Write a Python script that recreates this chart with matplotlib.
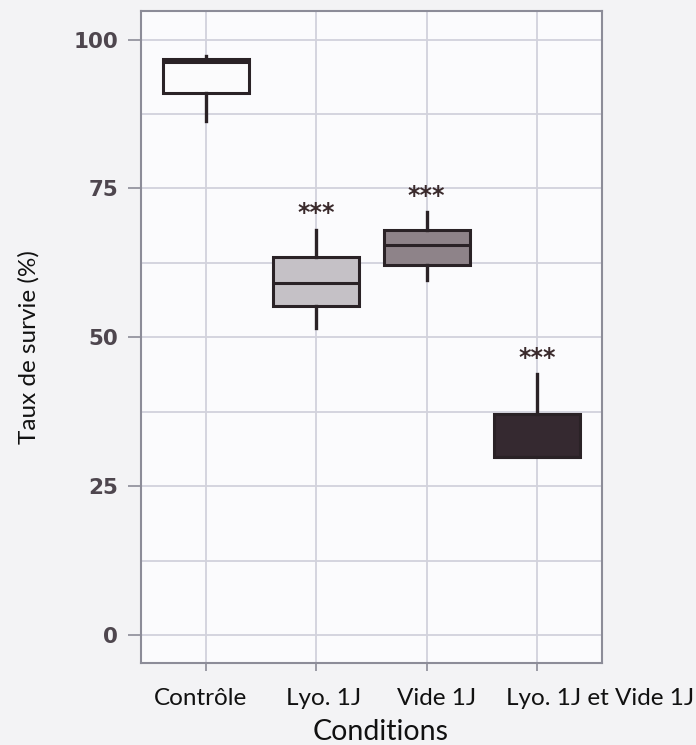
import matplotlib
matplotlib.use("Agg")
import matplotlib.pyplot as plt
import matplotlib.transforms as mtransforms
from matplotlib.ticker import MultipleLocator

categories = ["Contrôle", "Lyo. 1J", "Vide 1J", "Lyo. 1J et Vide 1J"]
whis_low = [86.3, 51.5, 59.6, 29.9]
q1 = [91.1, 55.2, 62.2, 29.9]
medians = [96.3, 59.1, 65.5, 29.9]
q3 = [96.8, 63.5, 68.0, 37.2]
whis_high = [97.3, 68.1, 71.0, 43.8]
signif = ["", "***", "***", "***"]
fill_colors = ["#fbfbfc", "#c5c1c6", "#8e8389", "#352930"]
y_ticks = [0, 25, 50, 75, 100]
label_shift_px = [-6, 7, 10, 63]

fig = plt.figure(figsize=(6.96, 7.45), dpi=100)
fig.patch.set_facecolor("#f3f3f5")
ax = fig.add_axes([141/696, 1 - 663/745, (602-141)/696, (663-11)/745])
ax.set_facecolor("#fbfbfd")

stats = []
for i, c in enumerate(categories):
    stats.append(dict(label=c, whislo=whis_low[i], q1=q1[i], med=medians[i],
                      q3=q3[i], whishi=whis_high[i], fliers=[]))

pos = list(range(1, len(categories) + 1))
edge = "#2a2226"
bp = ax.bxp(stats, positions=pos, widths=0.78, patch_artist=True, showcaps=False,
            boxprops=dict(edgecolor=edge, linewidth=2.2),
            medianprops=dict(color=edge, linewidth=2.2),
            whiskerprops=dict(color=edge, linewidth=2.4), zorder=3)
for patch, col in zip(bp["boxes"], fill_colors):
    patch.set_facecolor(col)

for i, s in enumerate(signif):
    if s:
        ax.text(pos[i], whis_high[i] + 2.8, s, ha="center", va="center",
                fontsize=17, fontweight="bold", color="#3a2a2c",
                family="DejaVu Sans", zorder=4)

ax.set_xlim(0.41, 4.59)
ax.set_ylim(-4.7, 104.8)
ax.set_yticks(y_ticks)
ax.set_yticklabels([str(t) for t in y_ticks])
ax.yaxis.set_minor_locator(MultipleLocator(12.5))
ax.set_xticks(pos)
ax.set_xticklabels(categories)

ax.grid(True, which="major", color="#d2d2dc", linewidth=1.3, zorder=0)
ax.grid(True, which="minor", axis="y", color="#d2d2dc", linewidth=1.3, zorder=0)
ax.set_axisbelow(True)

for sp in ax.spines.values():
    sp.set_color("#8c8c98")
    sp.set_linewidth(1.5)

ax.tick_params(axis="y", which="major", length=9.5, width=1.2, color="#8c8c98",
               labelsize=15.5, labelcolor="#4e464e", pad=7)
ax.tick_params(axis="y", which="minor", length=0)
ax.tick_params(axis="x", length=6, width=1.2, color="#8c8c98",
               labelsize=17.5, labelcolor="#111111", pad=12)
for lab in ax.get_yticklabels():
    lab.set_family("DejaVu Sans")
    lab.set_fontweight("bold")
for lab, dx in zip(ax.get_xticklabels(), label_shift_px):
    lab.set_family("Lato")
    lab.set_transform(lab.get_transform() +
                      mtransforms.ScaledTranslation(dx / 100, 0, fig.dpi_scale_trans))

ax.set_xlabel("Conditions", family="Lato", fontsize=20.5, color="#111111")
ax.xaxis.set_label_coords((381 - 141) / 461, (663 - 719) / 652)
ax.set_ylabel("Taux de survie (%)", family="Lato", fontsize=17.5, color="#111111")
ax.yaxis.set_label_coords((40 - 141) / 461, (663 - 347) / 652)

fig.savefig("out.png", dpi=100, facecolor=fig.get_facecolor())
